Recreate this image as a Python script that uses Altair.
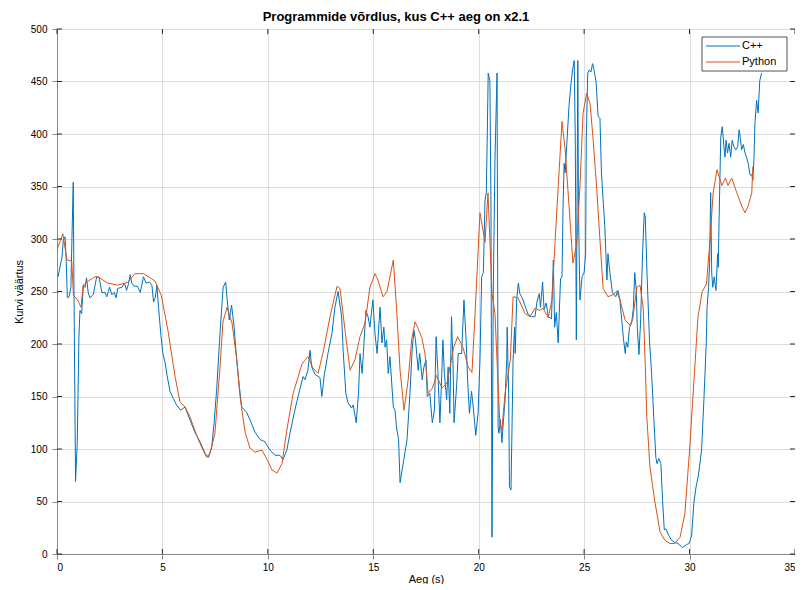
import altair as alt
import pandas as pd

# ---------------- data ----------------
cpp_t = [0.05, 0.24, 0.30, 0.38, 0.43, 0.49, 0.57, 0.66, 0.71, 0.77, 0.81, 0.88, 0.96, 1.04, 1.09, 1.17,
         1.25, 1.33, 1.40, 1.48, 1.56, 1.72, 1.88, 2.00, 2.13, 2.28, 2.36, 2.49, 2.60, 2.72, 2.80, 2.88,
         3.08, 3.20, 3.30, 3.40, 3.47, 3.55, 3.66, 3.82, 3.95, 4.10, 4.23, 4.39, 4.50, 4.58, 4.66, 4.74,
         4.81, 4.93, 5.02, 5.13, 5.22, 5.36, 5.52, 5.67, 5.87, 6.07, 6.30, 6.54, 6.78, 7.02, 7.18, 7.34,
         7.45, 7.57, 7.73, 7.88, 8.00, 8.07, 8.17, 8.28, 8.40, 8.52, 8.65, 8.76, 8.99, 9.15, 9.39, 9.63,
         9.86, 10.10, 10.34, 10.57, 10.72, 10.90, 11.05, 11.29, 11.52, 11.67, 11.76, 11.90, 12.00, 12.08,
         12.24, 12.47, 12.56, 12.68, 12.86, 13.04, 13.18, 13.33, 13.50, 13.57, 13.70, 13.80, 13.97, 14.05,
         14.19, 14.30, 14.37, 14.47, 14.56, 14.65, 14.75, 14.84, 14.98, 15.08, 15.18, 15.32, 15.41, 15.50,
         15.56, 15.63, 15.71, 15.79, 15.95, 16.03, 16.10, 16.20, 16.27, 16.45, 16.60, 16.74, 16.84, 16.93,
         17.00, 17.13, 17.20, 17.32, 17.40, 17.50, 17.56, 17.68, 17.80, 17.90, 17.98, 18.06, 18.16, 18.25,
         18.30, 18.37, 18.48, 18.55, 18.63, 18.71, 18.79, 18.83, 18.95, 19.03, 19.19, 19.30, 19.40, 19.48,
         19.56, 19.66, 19.74, 19.86, 19.97, 20.06, 20.14, 20.22, 20.30, 20.36, 20.40, 20.45, 20.53, 20.58,
         20.63, 20.69, 20.77, 20.87, 20.92, 20.96, 21.03, 21.10, 21.15, 21.25, 21.33, 21.35, 21.42, 21.46,
         21.53, 21.58, 21.63, 21.70, 21.73, 21.80, 21.88, 21.95, 22.03, 22.10, 22.22, 22.35, 22.50, 22.67,
         22.76, 22.87, 22.93, 23.03, 23.10, 23.20, 23.30, 23.45, 23.54, 23.60, 23.68, 23.77, 23.88, 23.95,
         24.00, 24.05, 24.10, 24.18, 24.28, 24.38, 24.45, 24.53, 24.58, 24.63, 24.70, 24.73, 24.80, 24.90,
         25.00, 25.07, 25.10, 25.17, 25.24, 25.32, 25.40, 25.47, 25.57, 25.66, 25.75, 25.82, 25.98, 26.08,
         26.13, 26.22, 26.34, 26.50, 26.60, 26.70, 26.78, 26.87, 26.95, 27.00, 27.07, 27.15, 27.25, 27.33,
         27.40, 27.47, 27.52, 27.60, 27.68, 27.77, 27.85, 27.90, 27.98, 28.10, 28.20, 28.30, 28.40, 28.46,
         28.54, 28.64, 28.72, 28.80, 28.88, 29.00, 29.15, 29.30, 29.45, 29.66, 29.86, 29.98, 30.10, 30.20,
         30.30, 30.40, 30.45, 30.57, 30.68, 30.79, 30.83, 30.90, 30.95, 31.00, 31.05, 31.10, 31.17, 31.25,
         31.33, 31.36, 31.40, 31.48, 31.55, 31.63, 31.68, 31.73, 31.80, 31.87, 31.95, 32.02, 32.10, 32.20,
         32.28, 32.35, 32.42, 32.47, 32.55, 32.63, 32.70, 32.78, 32.87, 32.95, 33.00, 33.05, 33.10, 33.18,
         33.25, 33.33, 33.42]
cpp_y = [264, 283, 299, 302, 283, 244, 245, 254, 302, 354, 239, 69, 106, 207, 232, 229,
         256, 254, 263, 249, 244, 247, 264, 263, 249, 249, 245, 254, 247, 249, 244, 253,
         254, 258, 251, 258, 266, 258, 255, 255, 249, 264, 258, 259, 256, 240, 244, 256,
         236, 208, 191, 182, 170, 155, 148, 142, 137, 140, 128, 116, 107, 96, 92, 102,
         125, 156, 210, 254, 259, 242, 223, 237, 216, 185, 159, 140, 135, 128, 116, 109,
         107, 99, 94, 94, 90, 99, 115, 138, 157, 169, 166, 175, 194, 178,
         171, 168, 150, 171, 192, 210, 235, 250, 226, 194, 153, 144, 139, 142,
         125, 153, 191, 172, 201, 232, 226, 216, 242, 210, 191, 235, 201, 216,
         197, 204, 172, 188, 140, 137, 121, 109, 68, 90, 109, 153, 194, 213,
         204, 175, 191, 166, 178, 185, 150, 153, 125, 137, 207, 175, 125, 172,
         204, 172, 147, 178, 134, 226, 175, 125, 159, 191, 191, 242, 204, 163,
         134, 155, 140, 113, 134, 185, 264, 268, 337, 344, 391, 458, 451, 337,
         16, 248, 375, 458, 121, 115, 128, 106, 121, 147, 185, 216, 153, 64,
         61, 121, 185, 216, 191, 242, 258, 248, 245, 242, 235, 228, 226, 226,
         240, 248, 235, 259, 233, 239, 226, 224, 280, 216, 230, 201, 262, 264,
         331, 372, 363, 391, 426, 449, 461, 470, 394, 204, 470, 331, 242, 264,
         268, 286, 394, 458, 461, 459, 467, 461, 449, 417, 415, 363, 312, 261,
         286, 268, 249, 245, 251, 242, 223, 204, 191, 202, 197, 216, 220, 233,
         268, 251, 216, 190, 223, 286, 325, 321, 268, 203, 172, 131, 92, 86,
         91, 86, 51, 23, 24, 18, 13, 11, 10, 6, 9, 10, 18, 48,
         63, 73, 80, 99, 147, 201, 235, 254, 277, 344, 268, 254, 264, 251,
         286, 273, 318, 397, 407, 388, 378, 394, 382, 391, 378, 394, 388, 385,
         388, 404, 394, 385, 390, 382, 378, 372, 361, 361, 356, 375, 410, 432,
         420, 451, 458]

py_t = [0.00, 0.28, 0.47, 0.70, 0.78, 0.95, 1.14, 1.24, 1.56, 1.80, 1.95, 2.40, 2.88, 3.37, 3.70, 4.10,
        4.65, 4.95, 5.26, 5.60, 5.83, 6.07, 6.30, 6.64, 6.88, 7.10, 7.26, 7.49, 7.73, 7.87, 8.06, 8.30,
        8.53, 8.68, 8.92, 9.15, 9.39, 9.72, 9.96, 10.20, 10.43, 10.67, 10.90, 11.20, 11.62, 11.90, 12.14,
        12.38, 12.62, 12.95, 13.28, 13.42, 13.66, 13.90, 14.13, 14.37, 14.61, 14.84, 15.08, 15.20, 15.46,
        15.65, 15.95, 16.10, 16.27, 16.46, 16.65, 16.82, 16.98, 17.12, 17.30, 17.45, 17.60, 17.80, 18.00,
        18.26, 18.50, 18.80, 19.00, 19.25, 19.50, 19.68, 19.82, 20.06, 20.30, 20.44, 20.63, 20.77, 21.00,
        21.10, 21.25, 21.50, 21.63, 21.86, 22.20, 22.43, 22.67, 22.90, 23.05, 23.30, 23.47, 23.62, 23.77,
        23.95, 24.10, 24.23, 24.47, 24.65, 24.80, 24.95, 25.12, 25.28, 25.43, 25.60, 25.75, 25.90, 26.13,
        26.37, 26.54, 26.70, 26.94, 27.17, 27.30, 27.50, 27.65, 27.80, 27.90, 27.97, 28.12, 28.36, 28.60,
        28.83, 29.07, 29.30, 29.55, 29.78, 30.00, 30.20, 30.40, 30.60, 30.80, 30.97, 31.12, 31.30, 31.53,
        31.70, 31.82, 32.00, 32.24, 32.48, 32.63, 32.77, 32.95, 33.00]
py_y = [290, 305, 280, 279, 246, 243, 235, 256, 261, 264, 264, 258, 256, 259, 267, 267,
        260, 246, 213, 169, 145, 140, 131, 112, 101, 92, 96, 115, 178, 221, 235, 220,
        185, 150, 116, 101, 97, 99, 90, 80, 77, 86, 118, 153, 181, 188, 177,
        172, 192, 226, 255, 253, 213, 175, 185, 207, 220, 254, 267, 262, 245,
        250, 280, 235, 175, 137, 165, 204, 221, 215, 206, 191, 153, 158, 170,
        158, 163, 196, 207, 197, 178, 173, 226, 325, 297, 344, 248, 229, 125,
        118, 153, 185, 245, 244, 229, 226, 234, 232, 234, 225, 242, 297, 350,
        412, 385, 347, 277, 296, 350, 420, 439, 429, 394, 347, 299, 253, 245,
        247, 250, 242, 223, 218, 223, 254, 256, 235, 180, 131, 83, 49, 21,
        13, 10, 10, 16, 39, 99, 163, 226, 250, 257, 299, 344, 366, 351,
        358, 351, 358, 344, 331, 325, 331, 344, 369]

series_names = ["C++", "Python"]
series_colors = ["#0072BD", "#D95319"]
x_ticks = [0, 5, 10, 15, 20, 25, 30, 35]
y_ticks = [0, 50, 100, 150, 200, 250, 300, 350, 400, 450, 500]

title_text = "Programmide võrdlus, kus C++ aeg on x2.1"
x_title = "Aeg (s)"
y_title = "Kurvi väärtus"

# ---------------- build tables ----------------
df = pd.concat([
    pd.DataFrame({"t": cpp_t, "v": cpp_y, "series": series_names[0], "order": range(len(cpp_t))}),
    pd.DataFrame({"t": py_t, "v": py_y, "series": series_names[1], "order": range(len(py_t))}),
])
xt = pd.DataFrame({"t": x_ticks})
yt = pd.DataFrame({"v": y_ticks})

W, H = 738, 525
FONT = "Liberation Sans"
AX = "#262626"

xscale = alt.Scale(domain=[0, 35], nice=False, zero=False)
yscale = alt.Scale(domain=[0, 500], nice=False, zero=False)

lines = alt.Chart(df).mark_line(strokeWidth=1, clip=True).encode(
    x=alt.X("t:Q", scale=xscale, title=x_title,
            axis=alt.Axis(values=x_ticks, labelPadding=3, titlePadding=1, titleFontWeight="normal")),
    y=alt.Y("v:Q", scale=yscale, title=y_title,
            axis=alt.Axis(values=y_ticks, labelPadding=5, titlePadding=6, titleFontWeight="normal")),
    color=alt.Color("series:N", scale=alt.Scale(domain=series_names, range=series_colors), legend=None),
    detail="series:N",
    order="order:Q",
)

TL = 5
tick_bottom = alt.Chart(xt).mark_rule(color=AX, strokeWidth=1).encode(
    x=alt.X("t:Q", scale=xscale), y=alt.value(H), y2=alt.value(H - TL))
tick_top = alt.Chart(xt).mark_rule(color=AX, strokeWidth=1).encode(
    x=alt.X("t:Q", scale=xscale), y=alt.value(0), y2=alt.value(TL))
tick_left = alt.Chart(yt).mark_rule(color=AX, strokeWidth=1).encode(
    y=alt.Y("v:Q", scale=yscale), x=alt.value(0), x2=alt.value(TL))
tick_right = alt.Chart(yt).mark_rule(color=AX, strokeWidth=1).encode(
    y=alt.Y("v:Q", scale=yscale), x=alt.value(W), x2=alt.value(W - TL))

# legend (MATLAB style box)
LX0, LX1, LY0, LY1 = 645, 730, 8, 42
leg_box = alt.Chart(pd.DataFrame({"a": [0]})).mark_rect(
    fill="white", stroke=AX, strokeWidth=0.8).encode(
    x=alt.value(LX0), x2=alt.value(LX1), y=alt.value(LY0), y2=alt.value(LY1))
leg_layers = [leg_box]
for i, (name, col) in enumerate(zip(series_names, series_colors)):
    ry = 17 + 16 * i
    d = pd.DataFrame({"name": [name]})
    leg_layers.append(alt.Chart(d).mark_rule(color=col, strokeWidth=1).encode(
        x=alt.value(649), x2=alt.value(683), y=alt.value(ry)))
    leg_layers.append(alt.Chart(d).mark_text(
        align="left", baseline="middle", font=FONT, fontSize=11, color="#000000").encode(
        x=alt.value(685), y=alt.value(ry), text="name:N"))

# title as text mark above the plot area
title_mark = alt.Chart(pd.DataFrame({"title": [title_text]})).mark_text(
    align="center", baseline="alphabetic", font=FONT, fontSize=13, fontWeight="bold",
    color="#000000").encode(x=alt.value(339), y=alt.value(-8), text="title:N")

chart = alt.layer(lines, tick_bottom, tick_top, tick_left, tick_right, *leg_layers, title_mark).properties(
    width=W, height=H,
    autosize=alt.AutoSizeParams(type="none"),
    padding={"left": 49, "top": 21, "right": 0, "bottom": 30},
).configure_view(stroke=AX, strokeWidth=1).configure_axis(
    labelFont=FONT, titleFont=FONT, labelFontSize=13, titleFontSize=13, titleFontWeight="normal",
    labelColor=AX, titleColor=AX, domainColor=AX, domainWidth=1, tickSize=0,
    grid=True, gridColor="#e3e3e3", gridWidth=1,
).configure(background="white")

chart.save("out.html", embed_options={"renderer": "svg", "actions": False})
